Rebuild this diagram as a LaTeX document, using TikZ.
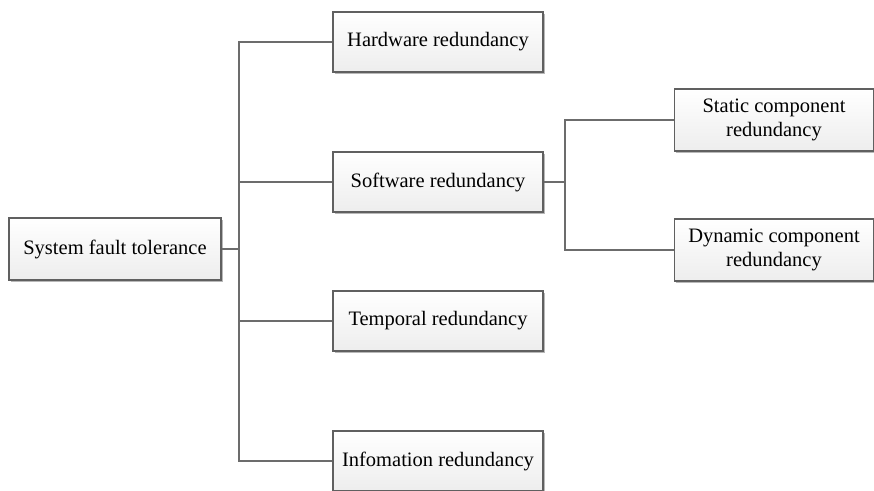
\documentclass[tikz,border=0pt]{standalone}
\usepackage{fontspec}
\setmainfont{Liberation Serif}
\usetikzlibrary{positioning,shadows,calc}

\begin{document}
\begin{tikzpicture}[
  x=1pt, y=-1pt,
  block/.style={rectangle, draw=gray!75!black, line width=1.3pt, top color=white, bottom color=gray!14,
    minimum width=210pt, minimum height=60pt, align=center, font=\fontsize{20.5}{23.5}\selectfont,
    drop shadow={shadow xshift=1.5pt, shadow yshift=-1.5pt, fill=gray!70, opacity=0.8}},
  leaf/.style={block, minimum width=199pt, minimum height=62pt},
  link/.style={draw=gray!85!black, line width=1.7pt}
]
\useasboundingbox (0,0) rectangle (874,490);

% root of the tree
\node[block, minimum width=212pt, minimum height=62pt] (root) at (115,249) {System fault tolerance};

% first level
\node[block] (hw) at (438,42) {Hardware redundancy};
\node[block] (sw) at (438,182) {Software redundancy};
\node[block] (temp) at (438,321) {Temporal redundancy};
\node[block] (info) at (438,461) {Infomation redundancy};

% software branch
\node[leaf] (static) at (774,120) {Static component\\redundancy};
\node[leaf] (dynamic) at (774,250) {Dynamic component\\redundancy};

% connectors
\coordinate (trunk) at ($(root.east)+(17,0)$);
\coordinate (fork) at ($(sw.east)+(21,0)$);

\draw[link] (root.east) -- (trunk);
\draw[link] (hw.west) -| (trunk);
\draw[link] (sw.west) -| (trunk);
\draw[link] (temp.west) -| (trunk);
\draw[link] (info.west) -| (trunk);

\draw[link] (sw.east) -- (fork);
\draw[link] (static.west) -| (fork);
\draw[link] (dynamic.west) -| (fork);

\end{tikzpicture}
\end{document}
